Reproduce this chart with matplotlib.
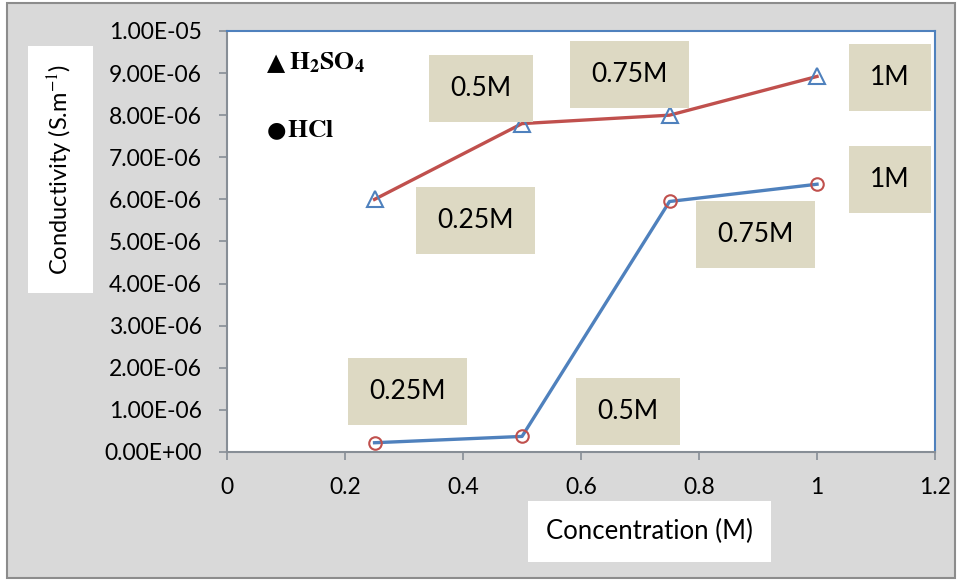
import numpy as np
import matplotlib.pyplot as plt
from matplotlib.patches import Rectangle

plt.rcParams.update({
    "font.family": ['Lato', 'DejaVu Sans'],
    "font.size": 15,
    "mathtext.fontset": 'stix',
})

# data
conc = [0.25, 0.5, 0.75, 1.0]
h2so4 = [6.00e-06, 7.80e-06, 8.00e-06, 8.92e-06]
hcl = [0.22e-06, 0.37e-06, 5.95e-06, 6.36e-06]
h2so4_labels = ['0.25M', '0.5M', '0.75M', '1M']
hcl_labels = ['0.25M', '0.5M', '0.75M', '1M']
yticks = np.arange(0, 1.01e-05, 1e-06)
xticks = [0, 0.2, 0.4, 0.6, 0.8, 1, 1.2]

red = '#c0504d'
blue = '#4f81bd'
tan = '#ddd9c3'
gray = '#878e96'

fig = plt.figure(figsize=(9.58, 5.80), dpi=100)
fig.patch.set_facecolor('white')
fig.patches.append(Rectangle((0.007, 0.004), 0.99, 0.99, transform=fig.transFigure,
                             facecolor='#d9d9d9', edgecolor='#8c8c8c', linewidth=1.5, zorder=-10))

ax = fig.add_axes([0.237, 0.2207, 0.739, 0.7259])
ax.set_facecolor('white')

ax.plot(conc, h2so4, color=red, linewidth=2.4, marker='^', markersize=11,
        markerfacecolor='none', markeredgecolor=blue, markeredgewidth=1.5, zorder=3)
ax.plot(conc, hcl, color=blue, linewidth=2.4, marker='o', markersize=9,
        markerfacecolor='none', markeredgecolor=red, markeredgewidth=1.5, zorder=3)

# label boxes, offsets in pixels from each point
h2so4_off = [(101, -21), (-41, 35), (-40, 41), (73, -1)]
hcl_off = [(33, 51), (106, 25), (86, -33), (73, 5)]
box = dict(boxstyle='square,pad=0.8', facecolor=tan, edgecolor='none')
for x, y, lab, off in zip(conc, h2so4, h2so4_labels, h2so4_off):
    ax.annotate(lab, (x, y), xytext=off, textcoords='offset pixels', ha='center', va='center',
                fontsize=19, bbox=box, zorder=4)
for x, y, lab, off in zip(conc, hcl, hcl_labels, hcl_off):
    ax.annotate(lab, (x, y), xytext=off, textcoords='offset pixels', ha='center', va='center',
                fontsize=19, bbox=box, zorder=4)

ax.set_xlim(0, 1.2)
ax.set_ylim(0, 1e-05)
ax.set_xticks(xticks)
ax.set_xticklabels(['0', '0.2', '0.4', '0.6', '0.8', '1', '1.2'])
ax.set_yticks(yticks)
ax.set_yticklabels([f'{v:.2E}' for v in yticks])
ax.tick_params(direction='out', length=6, width=1.2, color=gray, pad=12, labelsize=16.5)

for s in ['left', 'bottom']:
    ax.spines[s].set_color(gray)
    ax.spines[s].set_linewidth(1.5)
for s in ['top', 'right']:
    ax.spines[s].set_color(blue)
    ax.spines[s].set_linewidth(1.5)

# legend-like texts
ax.text(0.057, 0.925, '▲', transform=ax.transAxes, fontsize=17, family='DejaVu Sans',
        va='center', ha='left')
ax.text(0.087, 0.925, r'$\mathbf{H_2SO_4}$', transform=ax.transAxes, fontsize=18.5,
        va='center', ha='left')
ax.text(0.056, 0.765, '●', transform=ax.transAxes, fontsize=16, family='DejaVu Sans',
        va='center', ha='left')
ax.text(0.085, 0.765, r'$\mathbf{HCl}$', transform=ax.transAxes, fontsize=18.5,
        va='center', ha='left')

fig.text(0.0632, 0.7078, 'Conductivity (S.m$^{-1}$)', rotation=90, ha='center', va='center',
         fontsize=17, bbox=dict(boxstyle='square,pad=0.75', facecolor='white', edgecolor='none'))
fig.text(0.678, 0.083, 'Concentration (M)', ha='center', va='center', fontsize=18.5,
         bbox=dict(boxstyle='square,pad=0.7', facecolor='white', edgecolor='none'))

plt.savefig('out.png', dpi=100)
